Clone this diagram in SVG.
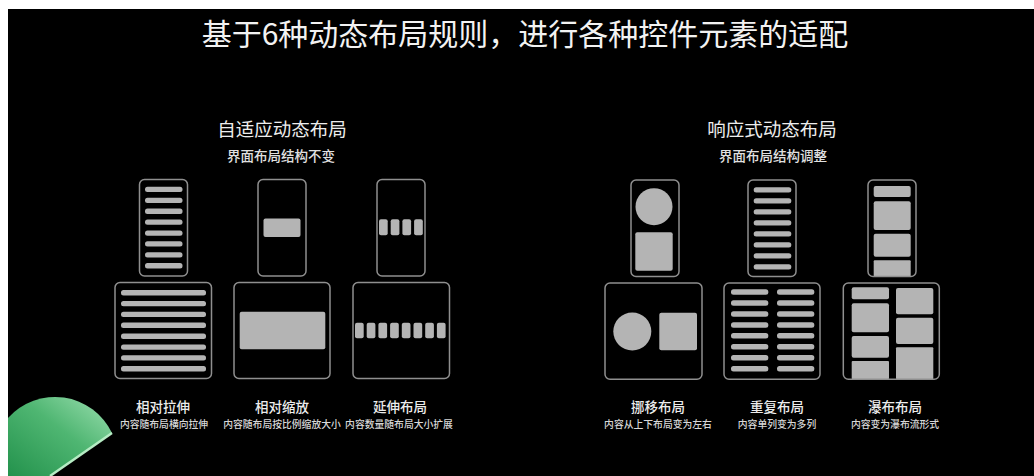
<svg xmlns="http://www.w3.org/2000/svg" width="1034" height="476" viewBox="0 0 1034 476">
<defs>
<style>
.frame{fill:#000;stroke:#8f8f8f;stroke-width:1.5}
.blk{fill:#b4b4b4}
.t{font-family:"Noto Sans CJK SC","Noto Sans",sans-serif;text-anchor:middle}
.title{font-size:30px;fill:#f2f2f2}
.h{font-size:18.5px;fill:#ededed}
.hs{font-size:13.5px;fill:#e0e0e0;font-weight:500}
.lb{font-size:13.5px;fill:#ececec;font-weight:500}
.ls{font-size:9.8px;fill:#d8d8d8;font-weight:500}
</style>
<linearGradient id="g" x1="0" y1="1" x2="1" y2="0">
<stop offset="0" stop-color="#23924c"/>
<stop offset="0.55" stop-color="#4fb672"/>
<stop offset="1" stop-color="#9ee0b2"/>
</linearGradient>
</defs>
<rect x="0" y="0" width="1034" height="476" fill="#ffffff"/>
<rect x="8" y="9" width="1026" height="467" fill="#000000"/>

<g id="green-shape">
<path d="M8,418 A63,63 0 0 1 112,433 L50,476 L8,476 Z" fill="url(#g)"/>
<path d="M112,433 L50,476" stroke="#b6ecc4" stroke-width="2.5" fill="none"/>
</g>

<text class="t title" x="525" y="45">基于6种动态布局规则，进行各种控件元素的适配</text>

<g id="header-adaptive">
<text class="t h" x="282" y="136">自适应动态布局</text>
<text class="t hs" x="281" y="161">界面布局结构不变</text>
</g>
<g id="header-responsive">
<text class="t h" x="772" y="136">响应式动态布局</text>
<text class="t hs" x="773" y="161">界面布局结构调整</text>
</g>

<!-- 相对拉伸 -->
<g id="stretch">
<rect class="frame" x="139.5" y="179.5" width="48" height="96.5" rx="5"/>
<g class="blk">
<rect x="145" y="186.8" width="37.5" height="5.3" rx="2.5"/>
<rect x="145" y="197.7" width="37.5" height="5.3" rx="2.5"/>
<rect x="145" y="208.6" width="37.5" height="5.3" rx="2.5"/>
<rect x="145" y="219.5" width="37.5" height="5.3" rx="2.5"/>
<rect x="145" y="230.4" width="37.5" height="5.3" rx="2.5"/>
<rect x="145" y="241.3" width="37.5" height="5.3" rx="2.5"/>
<rect x="145" y="252.2" width="37.5" height="5.3" rx="2.5"/>
<rect x="145" y="263.1" width="37.5" height="5.3" rx="2.5"/>
</g>
<rect class="frame" x="115" y="282.5" width="96.5" height="96" rx="5"/>
<g class="blk">
<rect x="121" y="290" width="85" height="5.4" rx="2.5"/>
<rect x="121" y="300.9" width="85" height="5.4" rx="2.5"/>
<rect x="121" y="311.7" width="85" height="5.4" rx="2.5"/>
<rect x="121" y="322.6" width="85" height="5.4" rx="2.5"/>
<rect x="121" y="333.5" width="85" height="5.4" rx="2.5"/>
<rect x="121" y="344.4" width="85" height="5.4" rx="2.5"/>
<rect x="121" y="355.2" width="85" height="5.4" rx="2.5"/>
<rect x="121" y="366.1" width="85" height="5.4" rx="2.5"/>
</g>
<text class="t lb" x="163" y="412">相对拉伸</text>
<text class="t ls" x="164" y="428">内容随布局横向拉伸</text>
</g>

<!-- 相对缩放 -->
<g id="scale">
<rect class="frame" x="258" y="179.5" width="48" height="96.5" rx="5"/>
<rect class="blk" x="263.5" y="218.5" width="37" height="18.5" rx="2"/>
<rect class="frame" x="234" y="282.5" width="96" height="96" rx="5"/>
<rect class="blk" x="239.7" y="311.7" width="85.6" height="37.6" rx="2"/>
<text class="t lb" x="282" y="412">相对缩放</text>
<text class="t ls" x="282" y="428">内容随布局按比例缩放大小</text>
</g>

<!-- 延伸布局 -->
<g id="extend">
<rect class="frame" x="377" y="179.5" width="48" height="96.5" rx="5"/>
<g class="blk">
<rect x="379" y="219.3" width="8.7" height="16" rx="2"/>
<rect x="390.7" y="219.3" width="8.7" height="16" rx="2"/>
<rect x="402.4" y="219.3" width="8.7" height="16" rx="2"/>
<rect x="414.1" y="219.3" width="8.7" height="16" rx="2"/>
</g>
<rect class="frame" x="353" y="282.5" width="96.5" height="96" rx="5"/>
<g class="blk">
<rect x="355" y="322.7" width="8.7" height="15.6" rx="2"/>
<rect x="366.7" y="322.7" width="8.7" height="15.6" rx="2"/>
<rect x="378.4" y="322.7" width="8.7" height="15.6" rx="2"/>
<rect x="390.1" y="322.7" width="8.7" height="15.6" rx="2"/>
<rect x="401.8" y="322.7" width="8.7" height="15.6" rx="2"/>
<rect x="413.5" y="322.7" width="8.7" height="15.6" rx="2"/>
<rect x="425.2" y="322.7" width="8.7" height="15.6" rx="2"/>
<rect x="436.9" y="322.7" width="8.7" height="15.6" rx="2"/>
</g>
<text class="t lb" x="400" y="412">延伸布局</text>
<text class="t ls" x="399" y="428">内容数量随布局大小扩展</text>
</g>

<!-- 挪移布局 -->
<g id="move">
<rect class="frame" x="631" y="180" width="48" height="96.5" rx="5"/>
<circle class="blk" cx="654" cy="206.7" r="18.5"/>
<rect class="blk" x="635.3" y="232.3" width="37.4" height="38.4" rx="2"/>
<rect class="frame" x="605" y="283" width="97" height="96.3" rx="5"/>
<circle class="blk" cx="632.3" cy="331.5" r="19"/>
<rect class="blk" x="659.3" y="312.7" width="37.7" height="37.6" rx="2"/>
<text class="t lb" x="658" y="412">挪移布局</text>
<text class="t ls" x="658" y="428">内容从上下布局变为左右</text>
</g>

<!-- 重复布局 -->
<g id="repeat">
<rect class="frame" x="748" y="180" width="48" height="96.5" rx="5"/>
<g class="blk">
<rect x="753.7" y="187.3" width="37.6" height="5.3" rx="2.5"/>
<rect x="753.7" y="198.3" width="37.6" height="5.3" rx="2.5"/>
<rect x="753.7" y="209.3" width="37.6" height="5.3" rx="2.5"/>
<rect x="753.7" y="220.3" width="37.6" height="5.3" rx="2.5"/>
<rect x="753.7" y="231.3" width="37.6" height="5.3" rx="2.5"/>
<rect x="753.7" y="242.3" width="37.6" height="5.3" rx="2.5"/>
<rect x="753.7" y="253.3" width="37.6" height="5.3" rx="2.5"/>
<rect x="753.7" y="264.3" width="37.6" height="5.3" rx="2.5"/>
</g>
<rect class="frame" x="724" y="283" width="96" height="96.3" rx="5"/>
<g class="blk">
<rect x="731" y="289.3" width="37.3" height="5.5" rx="2.5"/>
<rect x="731" y="300.3" width="37.3" height="5.5" rx="2.5"/>
<rect x="731" y="311.2" width="37.3" height="5.5" rx="2.5"/>
<rect x="731" y="322.2" width="37.3" height="5.5" rx="2.5"/>
<rect x="731" y="333.1" width="37.3" height="5.5" rx="2.5"/>
<rect x="731" y="344.1" width="37.3" height="5.5" rx="2.5"/>
<rect x="731" y="355" width="37.3" height="5.5" rx="2.5"/>
<rect x="731" y="366" width="37.3" height="5.5" rx="2.5"/>
<rect x="777" y="289.3" width="37.3" height="5.5" rx="2.5"/>
<rect x="777" y="300.3" width="37.3" height="5.5" rx="2.5"/>
<rect x="777" y="311.2" width="37.3" height="5.5" rx="2.5"/>
<rect x="777" y="322.2" width="37.3" height="5.5" rx="2.5"/>
<rect x="777" y="333.1" width="37.3" height="5.5" rx="2.5"/>
<rect x="777" y="344.1" width="37.3" height="5.5" rx="2.5"/>
<rect x="777" y="355" width="37.3" height="5.5" rx="2.5"/>
<rect x="777" y="366" width="37.3" height="5.5" rx="2.5"/>
</g>
<text class="t lb" x="777" y="412">重复布局</text>
<text class="t ls" x="777" y="428">内容单列变为多列</text>
</g>

<!-- 瀑布布局 -->
<g id="waterfall">
<g class="blk">
<rect x="873.7" y="186" width="37" height="11" rx="2"/>
<rect x="873.7" y="201.3" width="37" height="28.7" rx="2"/>
<rect x="873.7" y="233.7" width="37" height="23" rx="2"/>
<rect x="873.7" y="260.3" width="37" height="16.2" rx="1"/>
</g>
<rect class="frame" x="868" y="180" width="48" height="96.5" rx="5" style="fill:none"/>
<g class="blk">
<rect x="851.7" y="287.3" width="37.3" height="12" rx="2"/>
<rect x="851.7" y="303.3" width="37.3" height="29" rx="2"/>
<rect x="851.7" y="336" width="37.3" height="21.7" rx="2"/>
<rect x="851.7" y="361" width="37.3" height="18.3" rx="1"/>
<rect x="896" y="288" width="37.3" height="26.3" rx="2"/>
<rect x="896" y="317.7" width="37.3" height="26.3" rx="2"/>
<rect x="896" y="347.3" width="37.3" height="32" rx="1"/>
</g>
<rect class="frame" x="843.3" y="283" width="96" height="96.3" rx="5" style="fill:none"/>
<text class="t lb" x="895" y="412">瀑布布局</text>
<text class="t ls" x="895" y="428">内容变为瀑布流形式</text>
</g>
</svg>
